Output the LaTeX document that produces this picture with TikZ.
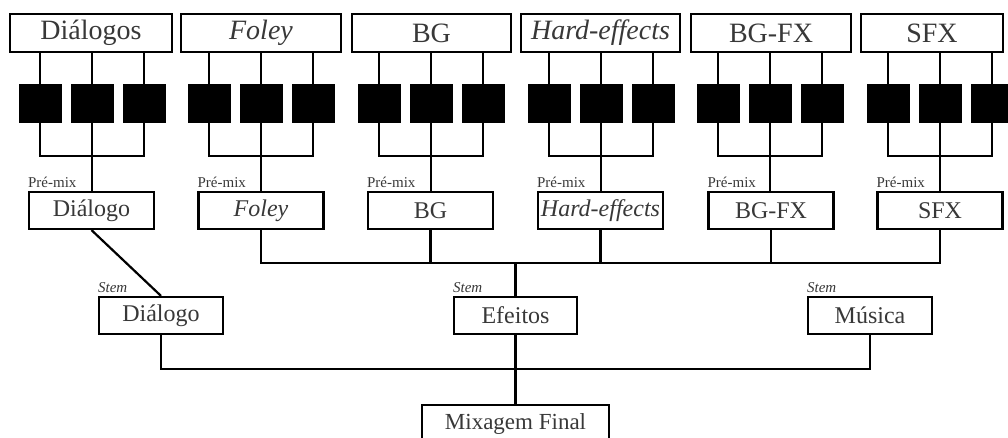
\documentclass[tikz,border=0pt]{standalone}
\usepackage{fontspec}
\setmainfont{Liberation Serif}
\definecolor{txt}{gray}{0.22}
\begin{document}
\begin{tikzpicture}[x=1pt,y=-1pt,
  box/.style={draw, line width=2.2pt, inner sep=0pt, text=txt},
  topbox/.style={box, minimum height=38pt, font=\fontsize{28}{30}\selectfont},
  midbox/.style={box, minimum width=125pt, minimum height=37pt, font=\fontsize{24}{26}\selectfont},
  sq/.style={fill=black, draw=none, minimum width=43pt, minimum height=39pt, inner sep=0pt},
  wire/.style={line width=2.2pt},
  tag/.style={font=\fontsize{15}{15}\selectfont, text=txt, inner sep=0pt, anchor=base west}]
\useasboundingbox (0,0) rectangle (1008,437);
\clip (0,0) rectangle (1008,437);
% groups: index / top box centre / top box width / square centre / premix centre / top text / premix text / shape
\foreach \i/\tc/\tw/\gc/\pc/\ta/\pa/\f in {
  1/91/162/92/91.5/Diálogos/Diálogo/\upshape,
  2/261/160/261/261/Foley/Foley/\itshape,
  3/431.5/159/431/430.5/BG/BG/\upshape,
  4/600.5/159/601/600.5/Hard-effects/Hard-effects/\itshape,
  5/771/160/770/771/BG-FX/BG-FX/\upshape,
  6/932/142/940/940/SFX/SFX/\upshape}{
  \node[topbox, minimum width=\tw pt] (t\i) at (\tc,33) {\f\ta};
  \node[midbox] (p\i) at (\pc,210.5) {\f\pa};
  \node[tag] (pl\i) at ([xshift=0pt,yshift=3.5pt]p\i.north west) {Pré-mix};
  \coordinate (bl\i) at (\gc-52,156);
  \coordinate (br\i) at (\gc+52,156);
  \draw[wire] (t\i.south -| bl\i) -- (bl\i) -- (br\i) -- (t\i.south -| br\i);
  \draw[wire] (t\i.south -| \gc,0) -- (p\i.north -| \gc,0);
  \node[sq] (sa\i) at (\gc-52,103.5) {};
  \node[sq] (sb\i) at (\gc,103.5) {};
  \node[sq] (sc\i) at (\gc+52,103.5) {};
}
% stems
\node[midbox, minimum width=124pt] (sd) at (161,315.5) {Diálogo};
\node[midbox, minimum width=123pt] (ef) at (515.5,315.5) {Efeitos};
\node[midbox, minimum width=124pt] (mu) at (870,315.5) {Música};
\foreach \n in {sd,ef,mu}{
  \node[tag, font=\fontsize{15}{15}\selectfont\itshape] at ([xshift=0pt,yshift=3.5pt]\n.north west) {Stem};
}
% final mix
\node[box, minimum width=187pt, minimum height=44pt, anchor=north,
      text height=24pt, text depth=20pt, font=\fontsize{23}{25}\selectfont] (mix) at (515.5,404) {Mixagem Final};
% effects bus
\coordinate (eb2) at (p2.south |- 0,263);
\coordinate (eb6) at (p6.south |- 0,263);
\draw[wire] (p2.south) -- (eb2) -- (eb6) -- (p6.south);
\foreach \i in {3,4,5}{ \draw[wire] (p\i.south) -- (p\i.south |- eb2); }
\draw[wire] (ef.north) -- (ef.north |- eb2);
% dialogue
\draw[wire] (p1.south) -- (sd.north);
% final bus
\coordinate (fb1) at (sd.south |- 0,369);
\coordinate (fb3) at (mu.south |- 0,369);
\draw[wire] (sd.south) -- (fb1) -- (fb3) -- (mu.south);
\draw[wire] (ef.south) -- (mix.north);
\end{tikzpicture}
\end{document}
